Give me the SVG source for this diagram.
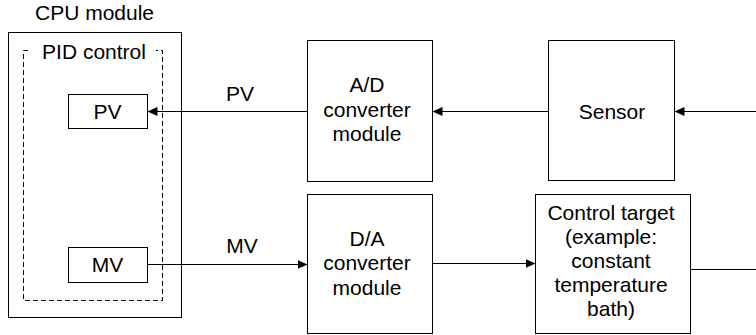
<svg xmlns="http://www.w3.org/2000/svg" width="756" height="335" viewBox="0 0 756 335">
<style>
text{font-family:"Liberation Sans",Arial,sans-serif;font-size:21px;fill:#000;text-anchor:middle}
.box{fill:#fff;stroke:#000;stroke-width:1}
.dash{fill:none;stroke:#000;stroke-width:1;stroke-dasharray:5,3}
.ln{fill:none;stroke:#000;stroke-width:1}
</style>
<defs>
<marker id="ah" viewBox="0 0 10 10" refX="10" refY="5" markerWidth="10" markerHeight="10" markerUnits="userSpaceOnUse" orient="auto">
<path d="M0,0.5 L10,5 L0,9.5 Z" fill="#000"/>
</marker>
</defs>
<g id="cpu">
<text x="94.5" y="20">CPU module</text>
<rect class="box" x="8.5" y="32.5" width="173" height="285"/>
</g>
<g id="pid">
<path class="dash" d="M28,50.5 H23.5 V300.5 H162.5 V50.5 H156"/>
<text x="94" y="59">PID control</text>
</g>
<g id="pv">
<rect class="box" x="68.5" y="94.5" width="79" height="34"/>
<text x="107.5" y="119">PV</text>
</g>
<g id="mv">
<rect class="box" x="68.5" y="247.5" width="79" height="35"/>
<text x="107.5" y="272">MV</text>
</g>
<g id="ad">
<rect class="box" x="307.5" y="40.5" width="125" height="141"/>
<text x="367" y="92">A/D</text>
<text x="367" y="116.5">converter</text>
<text x="367" y="141">module</text>
</g>
<g id="sensor">
<rect class="box" x="548.5" y="40.5" width="126" height="140"/>
<text x="612" y="118.5">Sensor</text>
</g>
<g id="da">
<rect class="box" x="307.5" y="194.5" width="125" height="139"/>
<text x="367" y="245.5">D/A</text>
<text x="367" y="270">converter</text>
<text x="367" y="294.5">module</text>
</g>
<g id="target">
<rect class="box" x="535.5" y="194.5" width="155" height="139"/>
<text x="611" y="220">Control target</text>
<text x="611" y="244">(example:</text>
<text x="611" y="268">constant</text>
<text x="611" y="292">temperature</text>
<text x="611" y="316">bath)</text>
</g>
<g id="connectors">
<path class="ln" d="M756,111.5 H674.5" marker-end="url(#ah)"/>
<path class="ln" d="M548.5,111.5 H432.5" marker-end="url(#ah)"/>
<path class="ln" d="M307.5,111.5 H147.5" marker-end="url(#ah)"/>
<text x="240" y="101">PV</text>
<path class="ln" d="M147.5,264.5 H307.5" marker-end="url(#ah)"/>
<text x="242" y="253">MV</text>
<path class="ln" d="M432.5,263.5 H535.5" marker-end="url(#ah)"/>
<path class="ln" d="M690.5,269.5 H756"/>
</g>
</svg>
